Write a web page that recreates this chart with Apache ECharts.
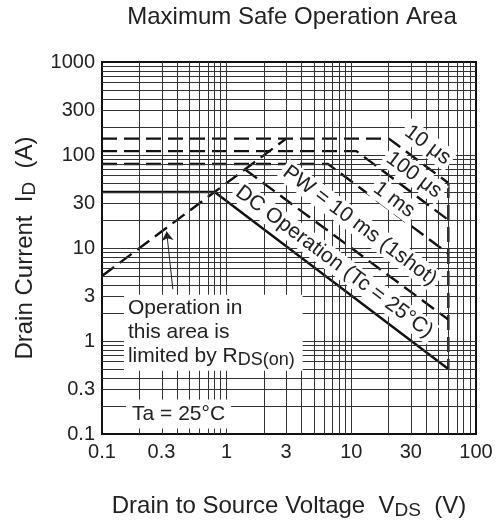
<!DOCTYPE html>
<html>
<head>
<meta charset="utf-8">
<script src="https://cdn.jsdelivr.net/npm/echarts@6.0.0/dist/echarts.min.js"></script>
<style>
html, body { margin:0; padding:0; background:#fff; }
#main { width:502px; height:525px; }
</style>
</head>
<body>
<div id="main"></div>
<script>
"use strict";
// tick labels
var xTicks = [0.1, 0.3, 1, 3, 10, 30, 100];
var yTicks = [0.1, 0.3, 1, 3, 10, 30, 100, 300, 1000];
// curves, [VDS (V), ID (A)]
var rdsLimit = [[0.1, 5], [3, 150]];
var pw10us = [[0.1, 150], [20, 150], [60, 50]];
var pw100us = [[0.1, 110], [11, 110], [60, 20]];
var pw1ms = [[0.1, 80], [6.5, 80], [60, 8.7]];
var pw10ms = [[1.4, 70], [60, 1.7]];
var dcOp = [[0.1, 40], [0.8, 40], [60, 0.5]];
var vdsLimit = [[60, 50], [60, 0.5]];
var arrowLine = [[0.37, 3.6], [0.33, 15]];

var FONT = "'Liberation Sans', Arial, sans-serif";
var lg = Math.log10;
function toLog(arr){ return arr.map(function(p){ return [lg(p[0]), lg(p[1])]; }); }
function gridVals(e0, e1){
	var out = [];
	for(var e=e0; e<e1; e++){
		for(var k=2; k<10; k++) out.push(lg(k * Math.pow(10, e)));
		if(e > e0) out.push(e);
	}
	return out;
}
function fmt(v){ return String(+Math.pow(10, v).toPrecision(3)); }
function curve(data, dashed){
	return { type:'line', data: toLog(data), symbol:'none', silent:true, z:3,
		lineStyle:{ color:'#111', width:2.4, type: dashed ? [15, 7] : 'solid' } };
}
var subStyle = { fontFamily:FONT, fontSize:19, color:'#222', lineHeight:14, verticalAlign:'bottom' };

var chart = echarts.init(document.getElementById('main'));
var option = {
	animation: false,
	backgroundColor: '#fff',
	title: { text:'Maximum Safe Operation Area', left:287, top:0, textAlign:'center',
		textStyle:{ fontFamily:FONT, fontSize:24, fontWeight:'normal', color:'#222' } },
	grid: { left:102, right:26, top:62, bottom:90, show:true, borderColor:'#111', borderWidth:2, backgroundColor:'#fff' },
	xAxis: {
		type:'value', min:-1, max:2,
		axisLine:{show:false}, axisTick:{show:false}, splitLine:{show:false},
		axisLabel:{ customValues: xTicks.map(lg), formatter: fmt, margin:8,
			fontFamily:FONT, fontSize:20, color:'#222' },
		name:'Drain to Source Voltage  V{s|DS}  (V)', nameLocation:'middle', nameGap:58,
		nameTextStyle:{ fontFamily:FONT, fontSize:24, color:'#222', lineHeight:28, rich:{ s:subStyle } }
	},
	yAxis: {
		type:'value', min:-1, max:3,
		axisLine:{show:false}, axisTick:{show:false}, splitLine:{show:false},
		axisLabel:{ customValues: yTicks.map(lg), formatter: fmt, margin:7,
			fontFamily:FONT, fontSize:20, color:'#222' },
		name:'Drain Current  I{s|D}  (A)', nameLocation:'middle', nameGap:62, nameRotate:90,
		nameTextStyle:{ fontFamily:FONT, fontSize:24, color:'#222', lineHeight:28, rich:{ s:subStyle } }
	},
	series: [
		{ type:'line', data:[], z:1, silent:true,
			markLine:{ silent:true, symbol:'none', animation:false, label:{show:false},
				lineStyle:{ color:'#333', width:1, type:'solid' },
				data: gridVals(-1, 2).map(function(v){ return {xAxis:v}; })
					.concat(gridVals(-1, 3).map(function(v){ return {yAxis:v}; })) } },
		curve(rdsLimit, true),
		curve(pw10us, true),
		curve(pw100us, true),
		curve(pw1ms, true),
		curve(pw10ms, true),
		curve(vdsLimit, true),
		curve(dcOp, false),
		{ type:'line', data:[], z:4, silent:true,
			markLine:{ silent:true, symbol:['none', 'arrow'], symbolSize:9, animation:false, label:{show:false},
				lineStyle:{ color:'#222', width:1, type:'solid' },
				data:[[{ coord: toLog(arrowLine)[0] }, { coord: toLog(arrowLine)[1] }]] } }
	]
};
chart.setOption(option);

// annotations, anchored in data units
function px(v, i){ return chart.convertToPixel({gridIndex:0}, [lg(v), lg(i)]); }
var a = px(1, 1), b = px(10, 0.1);
var rot = -Math.atan2(b[1] - a[1], b[0] - a[0]);

function note(text, v, i, r, extra){
	var p = px(v, i);
	var st = { text:text, font:'21px ' + FONT, fill:'#222', backgroundColor:'#fff',
		align:'center', verticalAlign:'middle', textAlign:'center', textVerticalAlign:'middle', padding:[1, 3] };
	for(var k in extra) st[k] = extra[k];
	return { type:'text', x:p[0], y:p[1], rotation:r, z:10, style:st };
}
var rich = { s:{ fontSize:18, fontFamily:FONT, fill:'#222', lineHeight:12, verticalAlign:'bottom' } };
chart.setOption({ graphic: [
	note('10 μs', 41, 128, rot),
	note('100 μs', 31.8, 61, rot),
	note('1 ms', 22, 33, rot),
	note('PW = 10 ms (1shot)', 11.7, 17.4, rot),
	note('DC Operation (Tc = 25°C)', 7.3, 7.1, rot),
	note('Operation in\nthis area is\nlimited by R{s|DS(on)}', 0.15, 3.15, 0,
		{ align:'left', verticalAlign:'top', textAlign:'left', textVerticalAlign:'top', lineHeight:24, padding:[2, 8, 2, 4], rich:rich }),
	note('Ta = 25°C', 0.156, 0.164, 0,
		{ align:'left', textAlign:'left', padding:[4, 6, 4, 6] })
]});
</script>
</body>
</html>
